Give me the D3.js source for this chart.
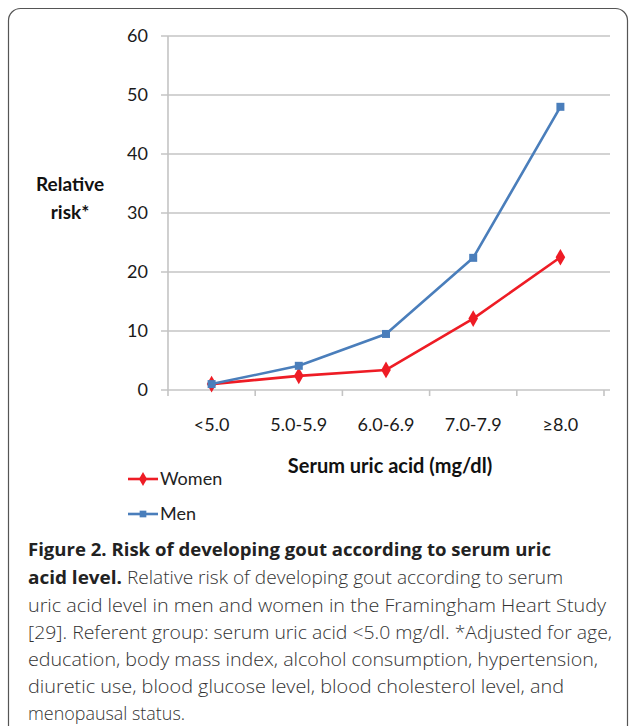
<!DOCTYPE html>
<html>
<head>
<meta charset="utf-8">
<script src="https://cdn.jsdelivr.net/npm/d3@7"></script>
<style>
  body { margin: 0; background: #fff; }
  svg { display: block; }
</style>
</head>
<body>
<svg></svg>
<script>
var categories = ["<5.0", "5.0-5.9", "6.0-6.9", "7.0-7.9", "\u22658.0"];
var women = [1.0, 2.4, 3.4, 12.1, 22.5];
var men = [1.0, 4.1, 9.5, 22.4, 48.0];
var yTicks = [0, 10, 20, 30, 40, 50, 60];
var captionBold = ["Figure 2. Risk of developing gout according to serum uric", "acid level."];
var captionLines = [
  " Relative risk of developing gout according to serum",
  "uric acid level in men and women in the Framingham Heart Study",
  "[29]. Referent group: serum uric acid <5.0 mg/dl. *Adjusted for age,",
  "education, body mass index, alcohol consumption, hypertension,",
  "diuretic use, blood glucose level, blood cholesterol level, and",
  "menopausal status."
];

var w = 631;
var h = 726;
var svg = d3.select('svg')
    .attr('width', w)
    .attr('height', h);

// frame
svg.append('rect')
    .attr('x', 8.5).attr('y', 8.5)
    .attr('width', 619).attr('height', 760)
    .attr('rx', 12)
    .attr('fill', 'none')
    .attr('stroke', '#555')
    .attr('stroke-width', 1.2);

var plotLeft = 168, plotRight = 604, plotTop = 36, plotBottom = 390;

var x = d3.scaleBand().domain(categories).range([plotLeft, plotRight]);
var y = d3.scaleLinear().domain([0, 60]).range([plotBottom, plotTop]);

var chartFont = 'Lato, "Liberation Sans", sans-serif';

// gridlines
svg.selectAll('line.grid')
    .data(yTicks)
    .enter()
    .append('line')
    .attr('x1', plotLeft - 7)
    .attr('x2', plotRight + 6)
    .attr('y1', function(d){ return y(d) })
    .attr('y2', function(d){ return y(d) })
    .attr('stroke', '#c4c4c4')
    .attr('stroke-width', 1.6);

// y axis line
svg.append('line')
    .attr('x1', plotLeft).attr('x2', plotLeft)
    .attr('y1', plotTop).attr('y2', plotBottom + 6)
    .attr('stroke', '#c4c4c4')
    .attr('stroke-width', 1.6);

// x axis ticks at band edges
var edges = categories.map(function(c){ return x(c) }).concat([plotRight]);
svg.selectAll('line.xtick')
    .data(edges.slice(1))
    .enter()
    .append('line')
    .attr('x1', function(d){ return d })
    .attr('x2', function(d){ return d })
    .attr('y1', plotBottom)
    .attr('y2', plotBottom + 6)
    .attr('stroke', '#c4c4c4')
    .attr('stroke-width', 1.6);

// y tick labels
svg.selectAll('text.ylab')
    .data(yTicks)
    .enter()
    .append('text')
    .attr('x', 148)
    .attr('y', function(d){ return y(d) + 6 })
    .attr('text-anchor', 'end')
    .attr('font-family', chartFont)
    .attr('font-size', 18)
    .attr('fill', '#1a1a1a')
    .text(function(d){ return d });

// x tick labels
svg.selectAll('text.xlab')
    .data(categories)
    .enter()
    .append('text')
    .attr('x', function(d){ return x(d) + x.bandwidth() / 2 })
    .attr('y', 431)
    .attr('text-anchor', 'middle')
    .attr('font-family', chartFont)
    .attr('font-size', 18)
    .attr('fill', '#1a1a1a')
    .text(function(d){ return d });

// axis titles
svg.append('text')
    .attr('x', 70).attr('y', 191)
    .attr('text-anchor', 'middle')
    .attr('font-family', chartFont)
    .attr('font-weight', 'bold')
    .attr('font-size', 19)
    .attr('fill', '#111')
    .text('Relative');
svg.append('text')
    .attr('x', 70).attr('y', 219)
    .attr('text-anchor', 'middle')
    .attr('font-family', chartFont)
    .attr('font-weight', 'bold')
    .attr('font-size', 19)
    .attr('fill', '#111')
    .text('risk*');
svg.append('text')
    .attr('x', 390).attr('y', 473)
    .attr('text-anchor', 'middle')
    .attr('font-family', chartFont)
    .attr('font-weight', 'bold')
    .attr('font-size', 20)
    .attr('fill', '#111')
    .text('Serum uric acid (mg/dl)');

var series = [
  {name: 'Women', values: women, color: '#ee1c25', shape: d3.symbolDiamond, size: 80},
  {name: 'Men', values: men, color: '#4a7ebb', shape: d3.symbolSquare, size: 64}
];

var line = d3.line()
    .x(function(d, i){ return x(categories[i]) + x.bandwidth() / 2 })
    .y(function(d){ return y(d) });

series.forEach(function(s){
  svg.append('path')
      .attr('d', line(s.values))
      .attr('fill', 'none')
      .attr('stroke', s.color)
      .attr('stroke-width', 2.6)
      .attr('stroke-linejoin', 'round');
  svg.selectAll(null)
      .data(s.values)
      .enter()
      .append('path')
      .attr('d', d3.symbol().type(s.shape).size(s.size))
      .attr('transform', function(d, i){
        return 'translate(' + (x(categories[i]) + x.bandwidth() / 2) + ',' + y(d) + ')';
      })
      .attr('fill', s.color);
});

// legend
series.forEach(function(s, i){
  var ly = 479 + i * 35;
  svg.append('line')
      .attr('x1', 128).attr('x2', 158)
      .attr('y1', ly).attr('y2', ly)
      .attr('stroke', s.color)
      .attr('stroke-width', 2.6);
  svg.append('path')
      .attr('d', d3.symbol().type(s.shape).size(s.size * 0.7))
      .attr('transform', 'translate(143,' + ly + ')')
      .attr('fill', s.color);
  svg.append('text')
      .attr('x', 160).attr('y', ly + 6)
      .attr('font-family', chartFont)
      .attr('font-size', 18)
      .attr('fill', '#222')
      .text(s.name);
});

// caption
var capFont = '"Open Sans", "Noto Sans", sans-serif';
svg.append('text')
    .attr('x', 28).attr('y', 556)
    .attr('font-family', capFont)
    .attr('font-size', 18.5)
    .attr('font-weight', 'bold')
    .attr('fill', '#222')
    .attr('textLength', 523)
    .attr('lengthAdjust', 'spacingAndGlyphs')
    .text(captionBold[0]);

var t1 = svg.append('text')
    .attr('x', 28).attr('y', 584)
    .attr('font-family', capFont)
    .attr('font-size', 18.5)
    .attr('fill', '#333');
t1.append('tspan')
    .attr('font-weight', 'bold')
    .attr('fill', '#222')
    .attr('textLength', 94)
    .attr('lengthAdjust', 'spacingAndGlyphs')
    .text(captionBold[1]);
t1.append('tspan')
    .attr('font-weight', 300)
    .attr('textLength', 441)
    .attr('lengthAdjust', 'spacingAndGlyphs')
    .text(captionLines[0]);

var capWidths = [578, 584, 570, 536, 157];
captionLines.slice(1).forEach(function(l, i){
  svg.append('text')
      .attr('x', 28).attr('y', 611.5 + i * 27.2)
      .attr('font-family', capFont)
      .attr('font-size', 18.5)
      .attr('font-weight', 300)
      .attr('fill', '#333')
      .attr('textLength', capWidths[i])
      .attr('lengthAdjust', 'spacingAndGlyphs')
      .text(l);
});
</script>
</body>
</html>
